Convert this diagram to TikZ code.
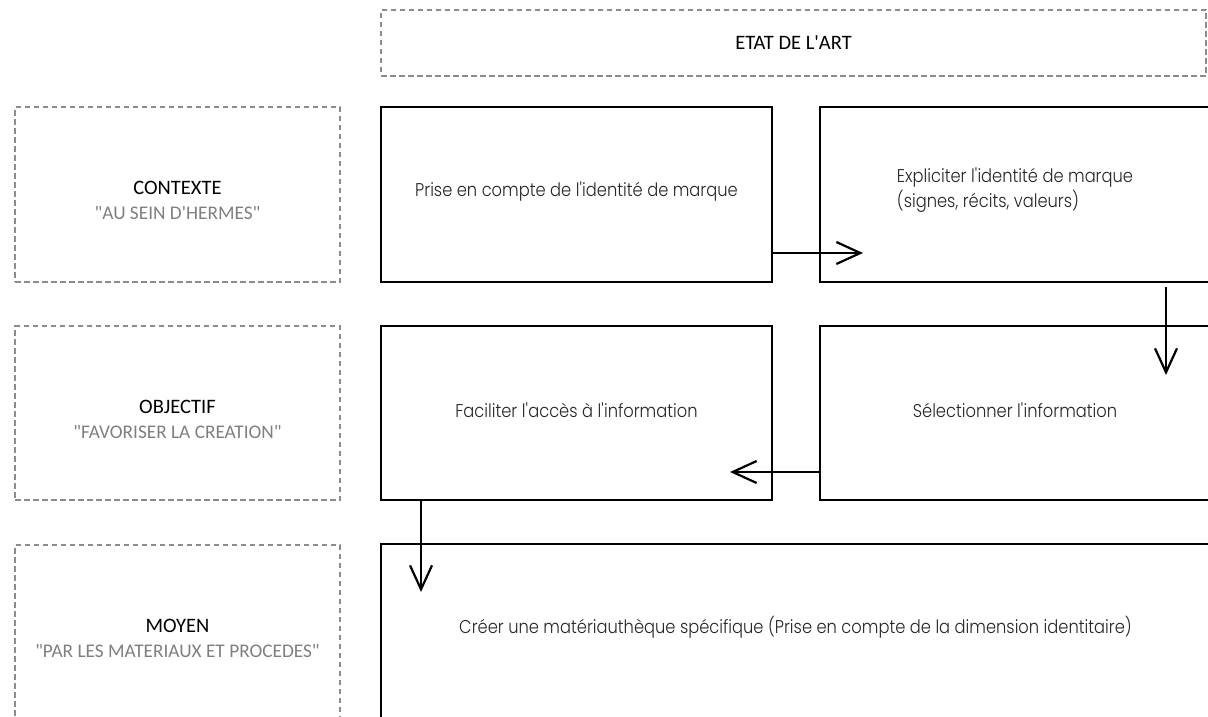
\documentclass[tikz,border=0pt]{standalone}
\usepackage{fontspec}
\setmainfont{Carlito}
\IfFontExistsTF{Poppins Light}{\newfontfamily\geo[FakeStretch=0.88]{Poppins Light}}{\newfontfamily\geo[FakeStretch=0.88]{Poppins}}
\usetikzlibrary{arrows.meta,calc}
\definecolor{dashgray}{HTML}{8C8C8C}
\definecolor{subgray}{HTML}{7F7F7F}
\definecolor{txt}{HTML}{262626}
\newcommand{\qs}{\textquotesingle}
\newcommand{\qd}{\textquotedbl}
\begin{document}
\begin{tikzpicture}[x=1pt,y=-1pt,
  solidbox/.style={draw=black, line width=2.3pt, rectangle, inner sep=0pt, align=left,
    font=\geo\fontsize{18.5}{25}\selectfont, text=txt},
  dashbox/.style={draw=dashgray, line width=2.2pt, dash pattern=on 5.5pt off 3.5pt, rectangle, inner sep=0pt},
  lbl/.style={align=center, font=\fontsize{20.5}{25}\selectfont, inner sep=0pt},
  arr/.style={line width=2.2pt, -{Straight Barb[length=24pt,width=22pt,line width=2.2pt]}}
]
\clip (0,0) rectangle (1208,717);
\useasboundingbox (0,0) rectangle (1208,717);

% top dashed box
\node[dashbox, minimum width=825pt, minimum height=66pt, font=\fontsize{20.5}{25}\selectfont] (etat) at (793.5,43) {ETAT DE L\qs ART};

% left dashed boxes
\node[dashbox, minimum width=325pt, minimum height=175pt] (ctx) at (177.5,194.5) {};
\node[lbl] (ctxT) at ($(ctx.center)+(0,6)$) {CONTEXTE\\{\fontsize{19.3}{25}\selectfont\color{subgray}\qd AU SEIN D\qs HERMES\qd}};
\node[dashbox, minimum width=325pt, minimum height=174pt] (obj) at (177.5,413) {};
\node[lbl] (objT) at ($(obj.center)+(0,6)$) {OBJECTIF\\{\fontsize{19.3}{25}\selectfont\color{subgray}\qd FAVORISER LA CREATION\qd}};
\node[dashbox, minimum width=325pt, minimum height=175pt] (moy) at (177.5,632.5) {};
\node[lbl] (moyT) at ($(moy.center)+(0,6)$) {MOYEN\\{\fontsize{19.3}{25}\selectfont\color{subgray}\qd PAR LES MATERIAUX ET PROCEDES\qd}};

% solid boxes
\node[solidbox, minimum width=391pt, minimum height=175pt] (A) at (576.5,194.5) {};
\node[font=\geo\fontsize{18.5}{25}\selectfont, text=txt, inner sep=0pt] (AT) at ($(A.center)+(0,-3)$) {Prise en compte de l\qs identité de marque};
\node[solidbox, minimum width=390pt, minimum height=175pt] (B) at (1015,194.5) {};
\node[font=\geo\fontsize{18.5}{25}\selectfont, text=txt, inner sep=0pt, align=left] (BT) at ($(B.center)+(0,-4)$) {Expliciter l\qs identité de marque\\(signes, récits, valeurs)};
\node[solidbox, minimum width=391pt, minimum height=174pt] (C) at (576.5,413) {};
\node[font=\geo\fontsize{18.5}{25}\selectfont, text=txt, inner sep=0pt] (CT) at ($(C.center)+(0,-3)$) {Faciliter l\qs accès à l\qs information};
\node[solidbox, minimum width=390pt, minimum height=174pt] (D) at (1015,413) {};
\node[font=\geo\fontsize{18.5}{25}\selectfont, text=txt, inner sep=0pt] (DT) at ($(D.center)+(0,-3)$) {Sélectionner l\qs information};
\node[solidbox, minimum width=829pt, minimum height=175pt] (E) at (795.5,631.5) {};
\node[font=\geo\fontsize{18.5}{25}\selectfont, text=txt, inner sep=0pt] (ET) at ($(E.center)+(0,-4)$) {Créer une matériauthèque spécifique (Prise en compte de la dimension identitaire)};

% arrow end points
\coordinate (abEnd) at (863,253);
\coordinate (bdEnd) at (1166,375);
\coordinate (dcEnd) at (730,472);
\coordinate (ceEnd) at (421,592);

% arrows
\draw[arr] (A.east |- abEnd) -- (abEnd);
\draw[arr] ($(B.south -| bdEnd)+(0,4)$) -- (bdEnd);
\draw[arr] (D.west |- dcEnd) -- (dcEnd);
\draw[arr] (C.south -| ceEnd) -- (ceEnd);
\end{tikzpicture}
\end{document}
